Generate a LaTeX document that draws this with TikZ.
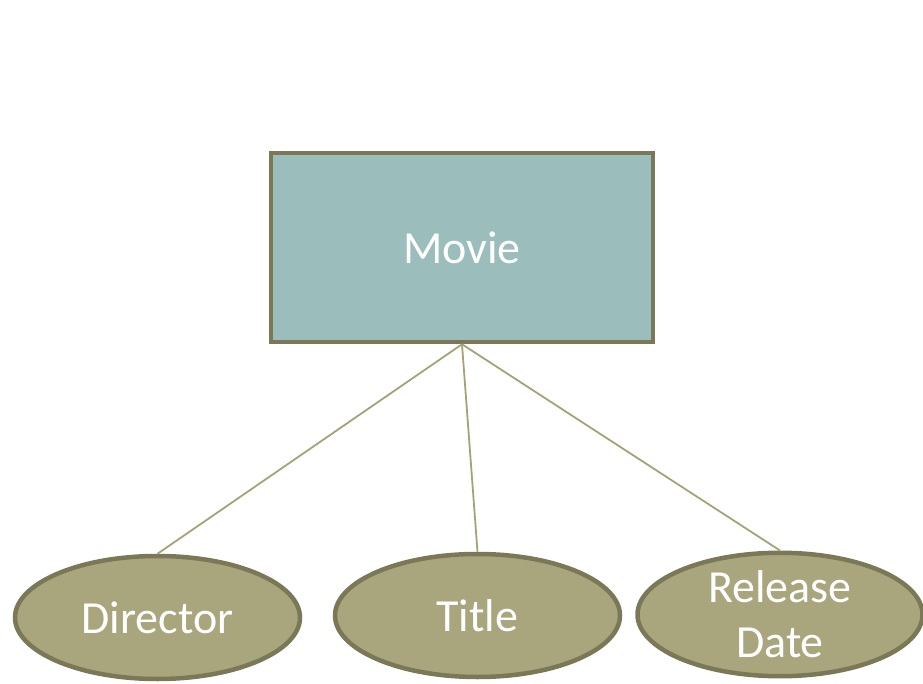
\documentclass[tikz,border=0pt]{standalone}
\usepackage{fontspec}
\setmainfont{Carlito}
\usetikzlibrary{shapes.geometric}
\definecolor{entfill}{HTML}{9BBDBC}
\definecolor{edge}{HTML}{7A7857}
\definecolor{attrfill}{HTML}{A9A57D}
\definecolor{link}{HTML}{A5A277}
\tikzset{
  entity/.style={draw=edge, line width=4.5pt, fill=entfill, rectangle,
    minimum width=382pt, minimum height=189pt, inner sep=0pt,
    text=white, font=\fontsize{46}{54}\selectfont},
  attr/.style={draw=edge, line width=4.5pt, fill=attrfill, ellipse,
    minimum width=285pt, minimum height=123pt, inner sep=0pt,
    text=white, align=center, font=\fontsize{46}{55}\selectfont},
  relline/.style={draw=link, line width=1.8pt}
}
\begin{document}
\begin{tikzpicture}[x=1pt, y=-1pt]
  \useasboundingbox (0,0) rectangle (923,684);
  % entity and its attributes
  \node[entity] (movie) at (462,247.5) {Movie};
  \node[attr] (director) at (157.5,617.5) {Director};
  \node[attr] (title) at (477.5,615.5) {Title};
  \node[attr] (release) at (780,614.5) {Release\\Date};
  % links from the entity to each attribute
  \draw[relline] (movie.south) -- (director.north);
  \draw[relline] (movie.south) -- (title.north);
  \draw[relline] (movie.south) -- (release.north);
\end{tikzpicture}
\end{document}
